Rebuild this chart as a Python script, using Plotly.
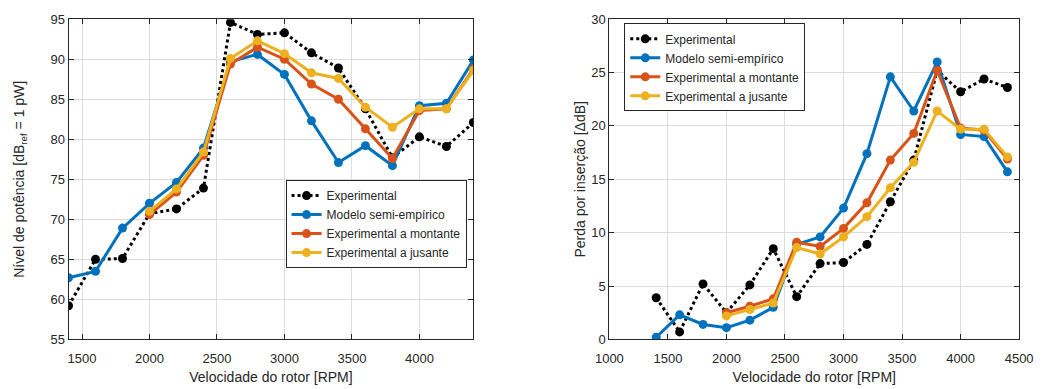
import plotly.graph_objects as go

# Rotor speed (RPM)
rpm = [1400, 1600, 1800, 2000, 2200, 2400, 2600, 2800, 3000, 3200, 3400, 3600, 3800, 4000, 4200, 4400]
rpm_meas = rpm[3:]

# Sound power level [dB ref 1 pW]
pwl_exp = [59.2, 65.0, 65.1, 70.7, 71.3, 73.9, 94.6, 93.1, 93.3, 90.8, 88.9, 83.8, 77.7, 80.3, 79.1, 82.1]
pwl_model = [62.7, 63.5, 68.9, 72.0, 74.6, 78.9, 89.7, 90.6, 88.1, 82.3, 77.1, 79.2, 76.7, 84.2, 84.5, 89.9]
pwl_up = [70.6, 73.4, 78.0, 89.4, 91.5, 90.0, 86.9, 85.0, 81.3, 77.6, 83.6, 83.8, 88.8]
pwl_down = [71.0, 73.8, 78.4, 90.1, 92.3, 90.7, 88.3, 87.6, 84.0, 81.5, 83.8, 83.8, 88.6]

# Insertion loss [dB]
il_exp = [3.9, 0.7, 5.2, 2.5, 5.1, 8.5, 4.0, 7.1, 7.2, 8.9, 12.9, 16.8, 25.2, 23.2, 24.4, 23.6]
il_model = [0.2, 2.3, 1.4, 1.1, 1.8, 3.0, 8.9, 9.6, 12.3, 17.4, 24.6, 21.4, 26.0, 19.2, 19.0, 15.7]
il_up = [2.5, 3.1, 3.8, 9.1, 8.7, 10.4, 12.8, 16.8, 19.3, 25.2, 19.8, 19.6, 16.9]
il_down = [2.2, 2.8, 3.4, 8.6, 8.0, 9.6, 11.5, 14.2, 16.6, 21.4, 19.7, 19.7, 17.1]

names = ["Experimental", "Modelo semi-empírico", "Experimental a montante", "Experimental a jusante"]
colors = ["#000000", "#0072BD", "#D95319", "#EDB120"]

TXT = "#262626"
GRID = "#dcdcdc"
FONT = "Liberation Sans, Arial, sans-serif"

fig = go.Figure()

def add_series(xs, ys, i, xa, ya, leg):
    fig.add_trace(go.Scatter(
        x=xs, y=ys, name=names[i], mode="lines+markers",
        line=dict(color=colors[i], width=3, dash="dot" if i == 0 else "solid"),
        marker=dict(color=colors[i], size=9, symbol="circle"),
        xaxis=xa, yaxis=ya, legend=leg,
    ))

left = [(rpm, pwl_exp), (rpm, pwl_model), (rpm_meas, pwl_up), (rpm_meas, pwl_down)]
right = [(rpm, il_exp), (rpm, il_model), (rpm_meas, il_up), (rpm_meas, il_down)]
for i, (xs, ys) in enumerate(left):
    add_series(xs, ys, i, "x", "y", "legend")
for i, (xs, ys) in enumerate(right):
    add_series(xs, ys, i, "x2", "y2", "legend2")

W, H = 1049, 389

def ax(**kw):
    base = dict(
        showline=True, linecolor=TXT, linewidth=1, mirror="allticks",
        ticks="inside", ticklen=5, tickcolor=TXT,
        showgrid=True, gridcolor=GRID, gridwidth=1, zeroline=False,
        tickfont=dict(size=13, color=TXT, family=FONT),
        title_font=dict(size=14, color=TXT, family=FONT),
    )
    base.update(kw)
    return base

ydom = [(H - 345.7) / H, (H - 12.7) / H]
legfont = dict(size=12, color=TXT, family=FONT)

fig.update_layout(
    width=W, height=H,
    margin=dict(l=0, r=0, t=0, b=0),
    paper_bgcolor="white", plot_bgcolor="white",
    font=dict(family=FONT, color=TXT, size=13),
    xaxis=ax(domain=[56 / W, 472 / W], range=[1400, 4400], tickvals=[1500, 2000, 2500, 3000, 3500, 4000],
             ticklabelstandoff=7, title=dict(text="Velocidade do rotor [RPM]", standoff=7), anchor="y"),
    yaxis=ax(domain=ydom, range=[55, 95], dtick=5,
             title=dict(text="Nível de potência [dB<sub>ref</sub> = 1 pW]", standoff=22), anchor="x"),
    xaxis2=ax(domain=[611.7 / W, 1032.7 / W], range=[1000, 4500], dtick=500,
              ticklabelstandoff=7, title=dict(text="Velocidade do rotor [RPM]", standoff=7), anchor="y2"),
    yaxis2=ax(domain=ydom, range=[0, 30], dtick=5,
              title=dict(text="Perda por inserção [ΔdB]", standoff=2), anchor="x2"),
    legend=dict(x=279 / W, y=1 - 180 / H, xanchor="left", yanchor="top",
                bgcolor="white", bordercolor=TXT, borderwidth=1,
                font=legfont, tracegroupgap=0),
    legend2=dict(x=627 / W, y=1 - 17 / H, xanchor="left", yanchor="top",
                 bgcolor="white", bordercolor=TXT, borderwidth=1,
                 font=legfont, tracegroupgap=0),
)

fig.write_html("out.html")
